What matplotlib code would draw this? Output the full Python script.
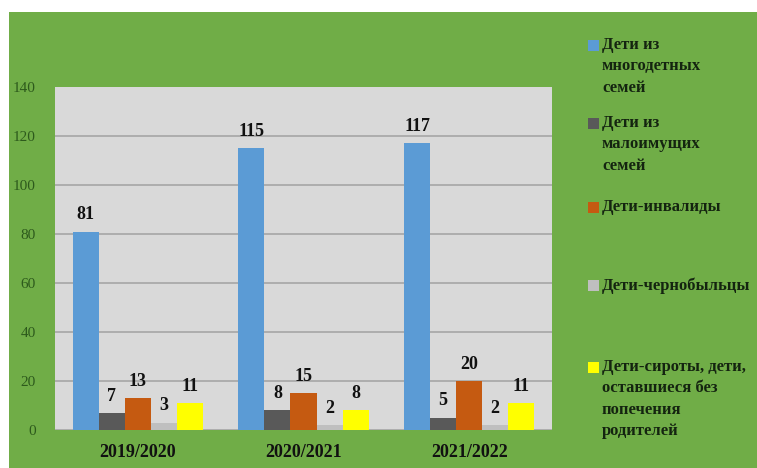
import numpy as np
import matplotlib
matplotlib.use("Agg")
import matplotlib.pyplot as plt
from matplotlib.patches import Rectangle

plt.rcParams['font.family'] = ['Liberation Serif', 'DejaVu Serif']

# data
years = ["2019/2020", "2020/2021", "2021/2022"]
series = ["Дети из\nмногодетных\nсемей",
          "Дети из\nмалоимущих\nсемей",
          "Дети-инвалиды",
          "Дети-чернобыльцы",
          "Дети-сироты, дети,\nоставшиеся без\nпопечения\nродителей"]
mnogodet = [81, 115, 117]
maloimush = [7, 8, 5]
invalid = [13, 15, 20]
chernob = [3, 2, 2]
siroty = [11, 8, 11]
values = [mnogodet, maloimush, invalid, chernob, siroty]
colors = ['#5b9bd5', '#595959', '#c55a11', '#bfbfbf', '#ffff00']
yticks = [0, 20, 40, 60, 80, 100, 120, 140]

W, H = 757, 468
fig = plt.figure(figsize=(W / 100, H / 100), dpi=100)
fig.patch.set_facecolor('white')
# green chart background (white strip above and to the left, as in the page scan)
fig.patches.append(Rectangle((9 / W, 0), 1 - 9 / W, 1 - 12 / H, transform=fig.transFigure,
                             facecolor='#70ad47', edgecolor='none', zorder=-5))

ax = fig.add_axes([55 / W, 38 / H, 497 / W, 343 / H])
ax.set_zorder(2)
ax.set_facecolor('#d9d9d9')
for sp in ax.spines.values():
    sp.set_visible(False)

x = np.arange(len(years))
w = 0.157
for i, (vals, c) in enumerate(zip(values, colors)):
    pos = x + (i - 2) * w
    bars = ax.bar(pos, vals, w, color=c, zorder=3)
    ax.bar_label(bars, labels=[str(v) for v in vals], padding=6, fontsize=13,
                 fontweight='bold', color='#111111', zorder=4)

ax.set_xlim(-0.5, 2.5)
ax.set_ylim(0, 140)
ax.set_yticks(yticks)
ax.yaxis.grid(True, color='#a6a6a6', linewidth=1.2, zorder=1)
ax.get_ygridlines()[-1].set_visible(False)
ax.set_axisbelow(True)
ax.tick_params(axis='y', length=0, pad=14, labelsize=11, labelcolor='#2d5a1c')
ax.set_xticks(x)
ax.set_xticklabels(years, fontsize=13, fontweight='bold', color='#111111')
ax.tick_params(axis='x', length=0, pad=10)

# legend on the right
leg_y = [45, 123, 207, 285, 367]
for lab, c, yy in zip(series, colors, leg_y):
    fig.patches.append(Rectangle((588 / W, 1 - (yy + 6) / H), 11 / W, 11 / H,
                                 transform=fig.transFigure, facecolor=c,
                                 edgecolor='none', zorder=2))
    fig.text(602 / W, 1 - (yy - 8) / H, lab, fontsize=12, fontweight='bold',
             color='#142410', va='top', ha='left', linespacing=1.45)

fig.savefig("out.png", dpi=100)
